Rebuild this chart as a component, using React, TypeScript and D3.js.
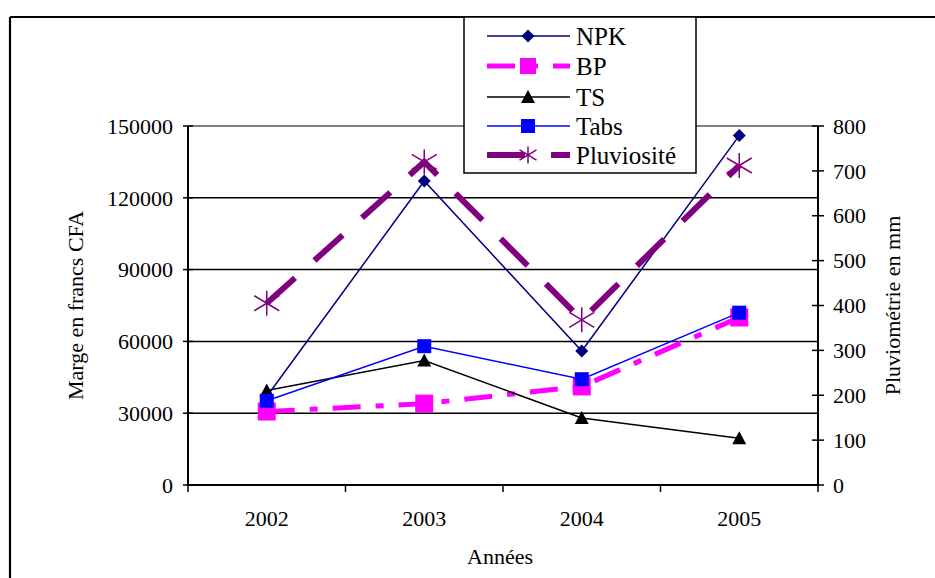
import React from "react";
import * as d3 from "d3";

const years = ["2002", "2003", "2004", "2005"];
const npk = [37000, 127000, 56000, 146000];
const bp = [30700, 34000, 41200, 70000];
const ts = [39500, 52000, 28000, 19500];
const tabs = [35200, 58000, 44200, 72000];
const pluvio = [405, 720, 368, 712];
const leftTicks = [0, 30000, 60000, 90000, 120000, 150000];
const rightTicks = [0, 100, 200, 300, 400, 500, 600, 700, 800];

const FONT = "Liberation Serif, DejaVu Serif, serif";

type Series = {
  name: string;
  values: number[];
  color: string;
  width: number;
  dash?: string;
  marker: "diamond" | "square" | "triangle" | "asterisk";
  msize: number;
  axis: "left" | "right";
};

const series: Series[] = [
  { name: "NPK", values: npk, color: "#000080", width: 1.5, marker: "diamond", msize: 13, axis: "left" },
  { name: "BP", values: bp, color: "#FF00FF", width: 5, dash: "28 15 8 15", marker: "square", msize: 18, axis: "left" },
  { name: "TS", values: ts, color: "#000000", width: 1.5, marker: "triangle", msize: 14, axis: "left" },
  { name: "Tabs", values: tabs, color: "#0000FF", width: 1.5, marker: "square", msize: 14, axis: "left" },
  { name: "Pluviosité", values: pluvio, color: "#800080", width: 6, dash: "38 26", marker: "asterisk", msize: 25, axis: "right" },
];

function Marker({ type, x, y, size, color }: { type: string; x: number; y: number; size: number; color: string }) {
  const h = size / 2;
  if (type === "diamond") {
    return <path d={`M${x},${y - h}L${x + h},${y}L${x},${y + h}L${x - h},${y}Z`} fill={color} />;
  }
  if (type === "square") {
    return <rect x={x - h} y={y - h} width={size} height={size} fill={color} />;
  }
  if (type === "triangle") {
    return <path d={`M${x},${y - h}L${x + h},${y + h * 0.85}L${x - h},${y + h * 0.85}Z`} fill={color} />;
  }
  return (
    <g stroke={color} strokeWidth={1.5} fill="none">
      <line x1={x} y1={y - h} x2={x} y2={y + h} />
      <line x1={x - h} y1={y - h * 0.6} x2={x + h} y2={y + h * 0.6} />
      <line x1={x - h} y1={y + h * 0.6} x2={x + h} y2={y - h * 0.6} />
    </g>
  );
}

const txt = { fontFamily: FONT };

export default function App() {
  const W = 935, H = 578;
  const left = 188, right = 818, top = 126, bottom = 485;

  const x = d3.scaleBand<string>().domain(years).range([left, right]);
  const xc = (d: string) => (x(d) as number) + x.bandwidth() / 2;
  const yL = d3.scaleLinear().domain([0, 150000]).range([bottom, top]);
  const yR = d3.scaleLinear().domain([0, 800]).range([bottom, top]);

  const lineGen = (s: Series) => {
    const ys = s.axis === "left" ? yL : yR;
    return d3
      .line<number>()
      .x((_, i) => xc(years[i]))
      .y((v) => ys(v))(s.values) as string;
  };

  const xBoundaries = [...years.map((d) => x(d) as number), right];

  const legendX = 464, legendY = 17, legendW = 232, legendH = 156;
  const legendRowY = [36, 66, 97, 126, 155];

  return (
    <svg width={W} height={H} style={{ position: "absolute", left: 0, top: 0, background: "#fff", fontFamily: FONT }}>
      <rect x={0} y={0} width={W} height={H} fill="#fff" />
      <line x1={10} y1={17} x2={W} y2={17} stroke="#000" strokeWidth={2.2} />
      <line x1={10} y1={17} x2={10} y2={H} stroke="#000" strokeWidth={2.2} />

      <line x1={left} y1={top} x2={right} y2={top} stroke="#808080" strokeWidth={2} />
      {leftTicks.filter((t) => t > 0 && t < 150000).map((t) => (
        <line key={t} x1={left} x2={right} y1={yL(t)} y2={yL(t)} stroke="#000" strokeWidth={1.5} />
      ))}

      <line x1={left} y1={top} x2={left} y2={bottom} stroke="#000" strokeWidth={2} />
      {leftTicks.map((t) => (
        <g key={t}>
          <line x1={left - 5} x2={left + 5} y1={yL(t)} y2={yL(t)} stroke="#000" strokeWidth={1.5} />
          <text x={173} y={yL(t)} dy="0.35em" textAnchor="end" fontSize={22} fill="#000" style={txt}>
            {t}
          </text>
        </g>
      ))}
      <line x1={right} y1={top} x2={right} y2={bottom} stroke="#000" strokeWidth={2} />
      {rightTicks.map((t) => (
        <g key={t}>
          <line x1={right - 6} x2={right + 6} y1={yR(t)} y2={yR(t)} stroke="#000" strokeWidth={1.5} />
          <text x={833} y={yR(t)} dy="0.35em" textAnchor="start" fontSize={22} fill="#000" style={txt}>
            {t}
          </text>
        </g>
      ))}
      <line x1={left} y1={bottom} x2={right} y2={bottom} stroke="#000" strokeWidth={2} />
      {xBoundaries.map((bx, i) => (
        <line key={i} x1={bx} x2={bx} y1={bottom} y2={bottom + 7} stroke="#000" strokeWidth={1.5} />
      ))}
      {years.map((d) => (
        <text key={d} x={xc(d)} y={526} textAnchor="middle" fontSize={22} fill="#000" style={txt}>
          {d}
        </text>
      ))}

      <text x={(left + right) / 2 - 3} y={564} textAnchor="middle" fontSize={22} fill="#000" style={txt}>
        Années
      </text>
      <text transform={`translate(75, ${(top + bottom) / 2}) rotate(-90)`} dy="0.35em" textAnchor="middle" fontSize={22} fill="#000" style={txt}>
        Marge en francs CFA
      </text>
      <text transform={`translate(892, ${(top + bottom) / 2}) rotate(-90)`} dy="0.35em" textAnchor="middle" fontSize={22} fill="#000" style={txt}>
        Pluviométrie en mm
      </text>

      {series.map((s) => {
        const ys = s.axis === "left" ? yL : yR;
        return (
          <g key={s.name}>
            <path d={lineGen(s)} fill="none" stroke={s.color} strokeWidth={s.width} strokeDasharray={s.dash} />
            {s.values.map((v, i) => (
              <Marker key={i} type={s.marker} x={xc(years[i])} y={ys(v)} size={s.msize} color={s.color} />
            ))}
          </g>
        );
      })}

      <rect x={legendX} y={legendY} width={legendW} height={legendH} fill="#fff" stroke="#000" strokeWidth={1.5} />
      {series.map((s, i) => {
        const ly = legendRowY[i];
        return (
          <g key={s.name}>
            <line x1={487} x2={570} y1={ly} y2={ly} stroke={s.color} strokeWidth={s.width} strokeDasharray={s.dash} />
            <Marker type={s.marker} x={528} y={ly} size={s.marker === "asterisk" ? 17 : s.name === "BP" ? 16 : s.msize} color={s.color} />
            <text x={576} y={ly} dy="0.35em" fontSize={25} fill="#000" style={txt}>
              {s.name}
            </text>
          </g>
        );
      })}
    </svg>
  );
}
